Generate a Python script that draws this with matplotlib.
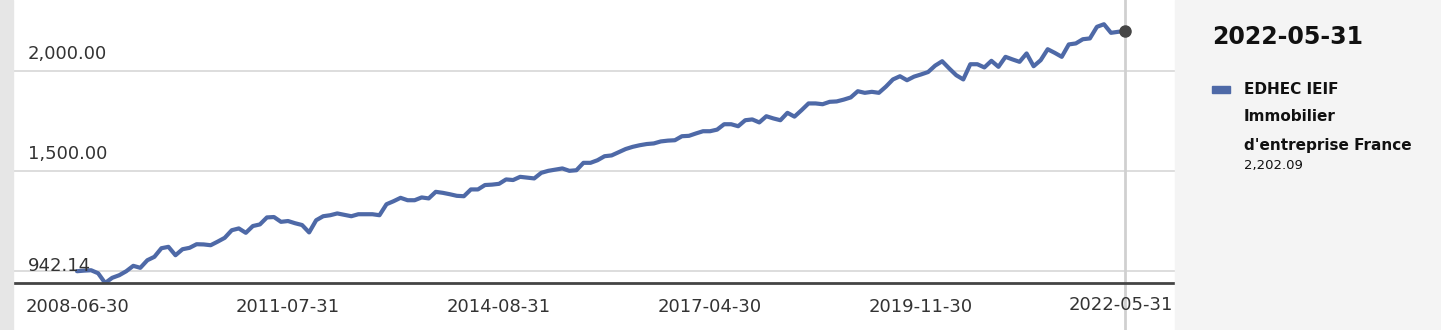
import matplotlib
matplotlib.use("Agg")
import matplotlib.pyplot as plt
import matplotlib.transforms as mtransforms
from matplotlib.patches import Rectangle
import numpy as np

values = [
    1001, 1004, 1006, 991, 942.14, 968, 981, 1001, 1028, 1018,
    1056, 1073, 1116, 1123, 1081, 1111, 1118, 1136, 1135, 1131,
    1149, 1168, 1206, 1215, 1193, 1227, 1235, 1270, 1272, 1248,
    1252, 1241, 1232, 1195, 1256, 1276, 1281, 1290, 1283, 1276,
    1286, 1286, 1286, 1281, 1336, 1351, 1368, 1356, 1356, 1370,
    1365, 1398, 1393, 1386, 1378, 1376, 1410, 1410, 1432, 1434,
    1438, 1460, 1457, 1473, 1469, 1465, 1493, 1503, 1509, 1515,
    1503, 1506, 1543, 1543, 1556, 1576, 1580, 1596, 1612, 1623,
    1631, 1637, 1640, 1650, 1654, 1656, 1676, 1678, 1690, 1701,
    1701, 1709, 1736, 1736, 1726, 1756, 1760, 1745, 1776, 1765,
    1756, 1793, 1774, 1806, 1840, 1840, 1836, 1848, 1850, 1859,
    1870, 1901, 1893, 1898, 1893, 1924, 1960, 1976, 1956, 1974,
    1985, 1997, 2029, 2051, 2015, 1981, 1960, 2036, 2036, 2020,
    2053, 2023, 2073, 2060, 2048, 2090, 2026, 2056, 2111, 2093,
    2073, 2135, 2140, 2161, 2165, 2223, 2236, 2193, 2198, 2202.09,
]
tick_idx = [0, 30, 60, 90, 120]
tick_labels = ["2008-06-30", "2011-07-31", "2014-08-31", "2017-04-30", "2019-11-30"]
last_date = "2022-05-31"
series_name = ["EDHEC IEIF", "Immobilier", "d'entreprise France"]
y_min = 942.14
grid_vals = [1000, 1500, 2000]
y_labels = {2000: "2,000.00", 1500: "1,500.00", 942.14: "942.14"}

W, H = 1441, 330
LINE = "#4e69a7"
TXT = "#333333"

fig = plt.figure(figsize=(W / 100, H / 100), dpi=100)
fig.patch.set_facecolor("white")

def fx(px):
    return px / W

def fy(py):
    return 1 - py / H

# side panels
fig.patches.append(Rectangle((0, 0), fx(13), 1, transform=fig.transFigure,
                             color="#e6e6e6", zorder=0))
fig.patches.append(Rectangle((fx(1175), 0), 1 - fx(1175), 1, transform=fig.transFigure,
                             color="#f4f4f4", zorder=0))

ax = fig.add_axes([fx(13), fy(283), fx(1175 - 13), 283 / H])
ax.set_facecolor("white")

x = np.arange(len(values))
ax.set_xlim(-9.1, 156.1)
ax.set_ylim(y_min, y_min + 283 * 5)

for g in grid_vals:
    ax.axhline(g, color="#dadada", lw=1.3, zorder=1)

ax.axvline(x[-1], ymin=-47 / 283, ymax=1, color="#d0d0d0", lw=2, zorder=2, clip_on=False)
ax.plot(x, values, color=LINE, lw=3, solid_joinstyle="round", solid_capstyle="round", zorder=3)
ax.plot(x[-1], values[-1], "o", color="#454545", ms=8, zorder=4)

for s in ["top", "left", "right"]:
    ax.spines[s].set_visible(False)
ax.spines["bottom"].set_color("#444444")
ax.spines["bottom"].set_linewidth(2)
ax.spines["bottom"].set_zorder(5)

ax.set_yticks([])
ax.set_xticks(tick_idx)
ax.set_xticklabels(tick_labels, fontsize=13, color=TXT)
ax.tick_params(axis="x", length=0, pad=11)

# y labels sit above their lines
trans_y = mtransforms.blended_transform_factory(ax.transAxes, ax.transData)
for v, lab in y_labels.items():
    ax.annotate(lab, xy=(15 / 1162, v), xycoords=trans_y,
                xytext=(0, 8), textcoords="offset pixels",
                ha="left", va="bottom", fontsize=13, color=TXT, zorder=6)

ax.text(1 - 2 / 1162, -22 / 283, last_date, transform=ax.transAxes,
        ha="right", va="center", fontsize=13, color=TXT)

# right panel
fig.text(fx(1212), fy(37), last_date, ha="left", va="center",
         fontsize=17, fontweight="bold", color="#111111")
fig.patches.append(Rectangle((fx(1212), fy(93)), fx(18), 7 / H, transform=fig.transFigure,
                             color=LINE, zorder=2))
for i, line in enumerate(series_name):
    fig.text(fx(1244), fy(89 + 28 * i), line, ha="left", va="center",
             fontsize=11, fontweight="bold", color="#111111")
fig.text(fx(1244), fy(166), f"{values[-1]:,.2f}", ha="left", va="center",
         fontsize=9.5, color="#111111")

fig.savefig("out.png", dpi=100)
